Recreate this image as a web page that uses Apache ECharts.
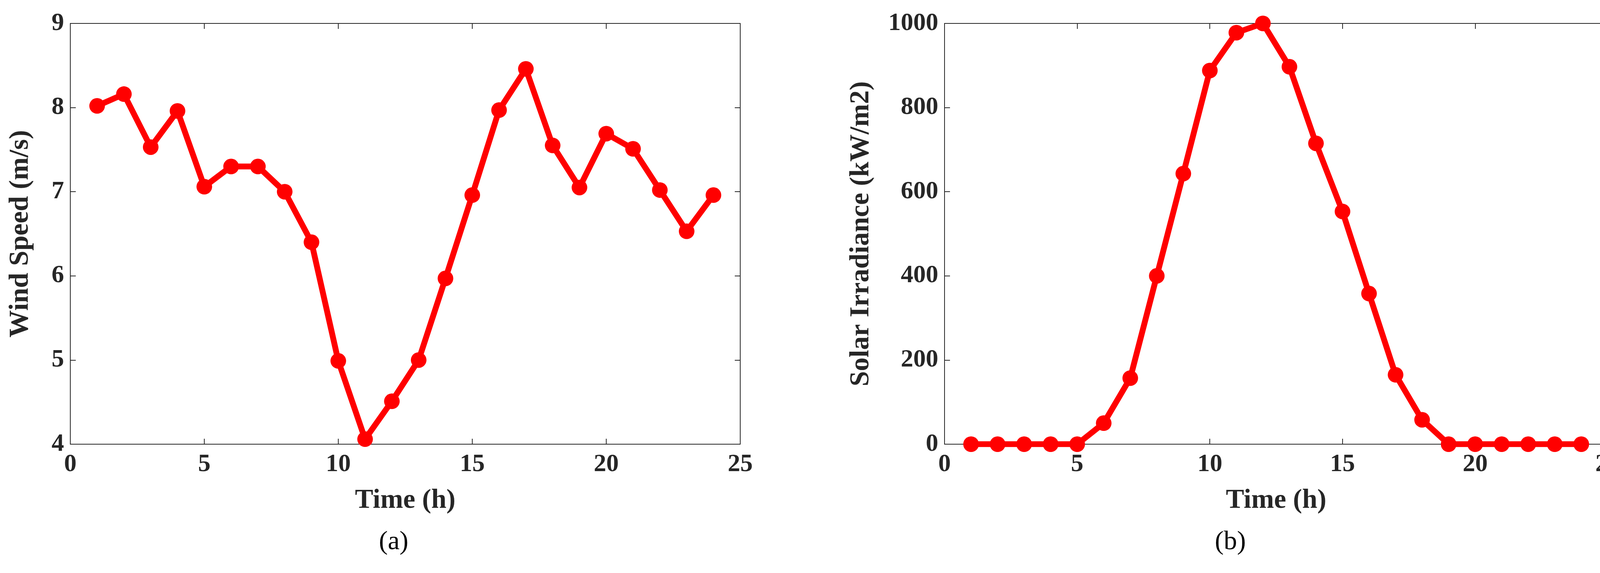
<!DOCTYPE html><html><head><meta charset="utf-8"><script src="https://cdn.jsdelivr.net/npm/echarts@6/dist/echarts.min.js"></script>
<style>html,body{margin:0;background:#fff}#c{width:4156px;height:1468px}</style></head><body><div id="c"></div><script>
const hours=[1,2,3,4,5,6,7,8,9,10,11,12,13,14,15,16,17,18,19,20,21,22,23,24];
const windSpeed=[8.02,8.16,7.53,7.96,7.06,7.30,7.30,7.00,6.40,4.99,4.06,4.51,5.00,5.97,6.96,7.97,8.46,7.55,7.05,7.69,7.51,7.02,6.53,6.96];
const solarIrr=[0,0,0,0,0,50,157,400,643,888,978,1000,897,715,553,358,165,58,0,0,0,0,0,0];
const F='"Liberation Serif","Times New Roman",serif';
const C='#262626';
const lab={fontFamily:F,fontWeight:'bold',fontSize:64,color:C,formatter:v=>String(v)};
function xa(i,pos,show){return {type:'value',gridIndex:i,position:pos,min:0,max:25,interval:5,
 axisLine:{show:true,onZero:false,lineStyle:{color:C,width:2}},axisTick:{show:true,inside:true,length:14,lineStyle:{color:C,width:2}},
 splitLine:{show:false},axisLabel:show?Object.assign({margin:20},lab):{show:false},
 name:show?'Time (h)':'',nameLocation:'middle',nameGap:110,nameTextStyle:{fontFamily:F,fontWeight:'bold',fontSize:70,color:C}};}
function ya(i,pos,show,min,max,iv,name,gap){return {type:'value',gridIndex:i,position:pos,min:min,max:max,interval:iv,
 axisLine:{show:true,onZero:false,lineStyle:{color:C,width:2}},axisTick:{show:true,inside:true,length:14,lineStyle:{color:C,width:2}},
 splitLine:{show:false},axisLabel:show?Object.assign({margin:16},lab):{show:false},
 name:show?name:'',nameLocation:'middle',nameGap:gap,nameTextStyle:{fontFamily:F,fontWeight:'bold',fontSize:70,color:C}};}
function ser(i,data){return {type:'line',xAxisIndex:i*2,yAxisIndex:i*2,data:hours.map((h,k)=>[h,data[k]]),
 symbol:'circle',symbolSize:40,lineStyle:{color:'#ff0000',width:15},itemStyle:{color:'#ff0000'},animation:false};}
const chart=echarts.init(document.getElementById('c'));
chart.setOption({animation:false,
 grid:[{left:180,top:60,width:1715,height:1078},{left:2418,top:60,width:1698,height:1078}],
 xAxis:[xa(0,'bottom',true),xa(0,'top',false),xa(1,'bottom',true),xa(1,'top',false)],
 yAxis:[ya(0,'left',true,4,9,1,'Wind Speed (m/s)',92),ya(0,'right',false,4,9,1,'',0),
        ya(1,'left',true,0,1000,200,'Solar Irradiance (kW/m2)',178),ya(1,'right',false,0,1000,200,'',0)],
 series:[ser(0,windSpeed),ser(1,solarIrr)],
 graphic:[{type:'text',left:970,top:1355,style:{text:'(a)',font:'68px "Liberation Serif",serif',fill:'#000'}},
          {type:'text',left:3110,top:1355,style:{text:'(b)',font:'68px "Liberation Serif",serif',fill:'#000'}}]
});
</script></body></html>
